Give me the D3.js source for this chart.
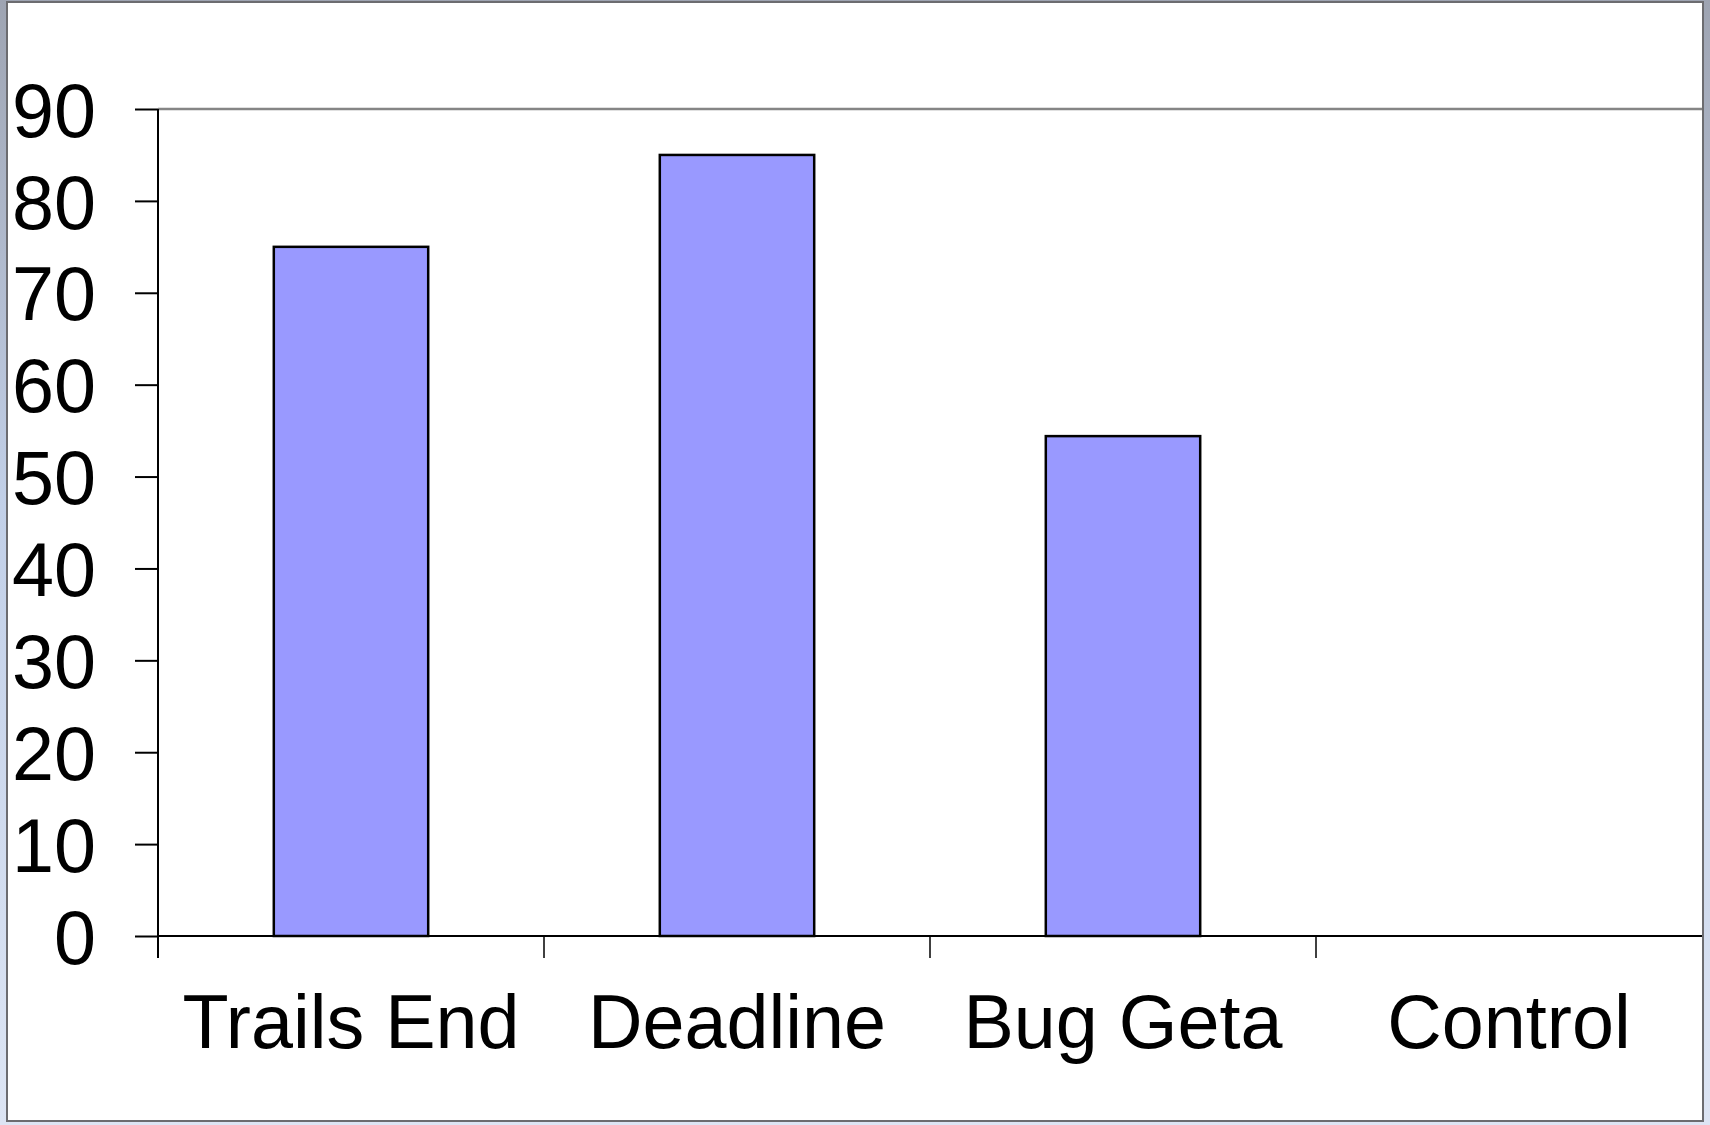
<!DOCTYPE html>
<html>
<head>
<meta charset="utf-8">
<script src="https://cdn.jsdelivr.net/npm/d3@7"></script>
<style>
  html, body { margin: 0; padding: 0; }
  body { width: 1710px; height: 1125px; overflow: hidden; }
  text { font-family: "Liberation Sans", Arial, sans-serif; }
</style>
</head>
<body>
<script>
const categories = ['Trails End', 'Deadline', 'Bug Geta', 'Control']
const values = [75, 85, 54.4, 0]
const yTicks = [0, 10, 20, 30, 40, 50, 60, 70, 80, 90]

const width = 1710
const height = 1125
const margin = { top: 109, right: 8, bottom: 189, left: 158 }

const svg = d3.select('body').append('svg')
    .attr('width', width)
    .attr('height', height)

// slide-ish background
const grad = svg.append('defs').append('linearGradient')
    .attr('id', 'bg').attr('x1', 0).attr('y1', 0).attr('x2', 0).attr('y2', 1)
grad.append('stop').attr('offset', '0%').attr('stop-color', '#9ea4b2')
grad.append('stop').attr('offset', '45%').attr('stop-color', '#c2d0e8')
grad.append('stop').attr('offset', '100%').attr('stop-color', '#dde5f4')

svg.append('rect').attr('width', width).attr('height', height).attr('fill', 'url(#bg)')
svg.append('rect')
    .attr('x', 7).attr('y', 2)
    .attr('width', 1696).attr('height', 1119)
    .attr('fill', '#fff')
    .attr('stroke', '#6c6c70').attr('stroke-width', 2)

const x = d3.scaleBand()
    .domain(categories)
    .range([margin.left, width - margin.right])
    .paddingInner(0.6)
    .paddingOuter(0.3)

const y = d3.scaleLinear()
    .domain([0, 90])
    .range([height - margin.bottom, margin.top])

const x0 = margin.left
const x1 = width - margin.right

// top border of plot area
svg.append('line')
    .attr('x1', x0).attr('x2', x1)
    .attr('y1', y(90)).attr('y2', y(90))
    .attr('stroke', '#858585').attr('stroke-width', 2.5)

// bars
svg.append('g').selectAll('rect')
    .data(values)
    .enter()
    .append('rect')
    .attr('x', (d, i) => x(categories[i]))
    .attr('y', (d) => y(d))
    .attr('width', x.bandwidth())
    .attr('height', (d) => y(0) - y(d))
    .attr('fill', (d) => d > 0 ? '#9999ff' : 'none')
    .attr('stroke', (d) => d > 0 ? '#000' : 'none')
    .attr('stroke-width', 2.5)

// y axis
const yAxis = svg.append('g')
    .attr('transform', `translate(${x0},0)`)
    .call(d3.axisLeft(y).tickValues(yTicks).tickSize(23).tickSizeOuter(0).tickPadding(39))
yAxis.select('.domain').remove()
yAxis.selectAll('line').attr('stroke', '#000').attr('stroke-width', 2)
yAxis.selectAll('text')
    .attr('font-size', 75.5)
    .attr('fill', '#000')
    .attr('font-family', '"Liberation Sans", Arial, sans-serif')
    .attr('dy', '0.36em')

// y axis line, running down to the bottom tick length
svg.append('line')
    .attr('x1', x0).attr('x2', x0)
    .attr('y1', y(90)).attr('y2', y(0) + 22)
    .attr('stroke', '#000').attr('stroke-width', 2)

// zero line
svg.append('line')
    .attr('x1', x0).attr('x2', x1)
    .attr('y1', y(0)).attr('y2', y(0))
    .attr('stroke', '#000').attr('stroke-width', 2)

// category boundary ticks
const bounds = d3.range(categories.length).map((i) => x0 + i * x.step())
svg.append('g').selectAll('line')
    .data(bounds)
    .enter()
    .append('line')
    .attr('x1', (d) => d).attr('x2', (d) => d)
    .attr('y1', y(0)).attr('y2', y(0) + 22)
    .attr('stroke', '#000').attr('stroke-width', 1.5)

// category labels
const xAxis = svg.append('g')
    .attr('transform', `translate(0,${y(0)})`)
    .call(d3.axisBottom(x).tickSize(0))
xAxis.select('.domain').remove()
xAxis.selectAll('text')
    .attr('font-size', 75.5)
    .attr('fill', '#000')
    .attr('font-family', '"Liberation Sans", Arial, sans-serif')
    .attr('y', 112)
    .attr('dy', 0)
</script>
</body>
</html>
